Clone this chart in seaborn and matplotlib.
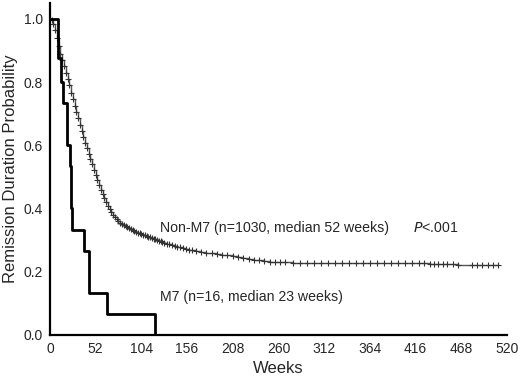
import numpy as np
import pandas as pd
import matplotlib
matplotlib.use("Agg")
import matplotlib.pyplot as plt
import seaborn as sns

# datos (Kaplan-Meier)
nonm7_weeks = [0, 2, 4, 6, 8, 10, 12, 14, 16, 18, 20, 22, 24, 26, 28, 30, 32, 34, 36,
               38, 40, 42, 44, 46, 48, 50, 52, 54, 56, 58, 60, 62, 64, 66, 68, 70, 72,
               74, 76, 78, 80, 82, 84, 86, 88, 90, 92, 94, 96, 98, 100, 102, 104, 106,
               108, 110, 112, 114, 116, 118, 120, 122, 124, 126, 128, 130, 133, 136,
               139, 142, 145, 148, 151, 155, 158, 162, 166, 172, 178, 184, 190, 196,
               202, 208, 214, 220, 226, 232, 238, 244, 250, 256, 262, 268, 276, 284,
               292, 300, 308, 316, 324, 332, 340, 348, 356, 364, 372, 380, 388, 396,
               404, 412, 420, 426, 432, 437, 442, 447, 452, 458, 464,
               480, 486, 492, 498, 504, 510]
nonm7_surv = [1.0, 0.995, 0.985, 0.965, 0.94, 0.915, 0.89, 0.87, 0.85, 0.83, 0.81,
              0.79, 0.765, 0.745, 0.725, 0.705, 0.685, 0.665, 0.645, 0.625, 0.607,
              0.59, 0.573, 0.557, 0.54, 0.523, 0.507, 0.49, 0.474, 0.458, 0.445, 0.432,
              0.42, 0.409, 0.398, 0.389, 0.38, 0.373, 0.366, 0.36, 0.355, 0.351, 0.347,
              0.343, 0.34, 0.337, 0.334, 0.331, 0.329, 0.326, 0.323, 0.321, 0.319,
              0.317, 0.315, 0.313, 0.311, 0.309, 0.307, 0.305, 0.303, 0.3, 0.298,
              0.296, 0.294, 0.292, 0.289, 0.287, 0.284, 0.282, 0.279, 0.277, 0.275,
              0.272, 0.27, 0.268, 0.266, 0.263, 0.26, 0.258, 0.256, 0.254, 0.252,
              0.25, 0.247, 0.244, 0.241, 0.238, 0.236, 0.234, 0.232, 0.231, 0.23,
              0.23, 0.229, 0.229, 0.228, 0.228, 0.228, 0.228, 0.228, 0.228, 0.228,
              0.228, 0.228, 0.228, 0.228, 0.228, 0.228, 0.228, 0.228, 0.228, 0.227,
              0.226, 0.225, 0.225, 0.224, 0.224, 0.224, 0.223, 0.222,
              0.222, 0.222, 0.222, 0.222, 0.222, 0.222]

m7_weeks = [0, 9, 12.5, 15, 19, 22.7, 23.5, 25.4, 38.7, 44.4, 64.5, 120]
m7_surv = [1.0, 0.875, 0.80, 0.733, 0.60, 0.533, 0.40, 0.333, 0.267, 0.133, 0.067, 0.0]

x_ticks = list(range(0, 521, 52))
y_ticks = [0.0, 0.2, 0.4, 0.6, 0.8, 1.0]

nonm7 = pd.DataFrame({"weeks": nonm7_weeks, "surv": nonm7_surv})
m7 = pd.DataFrame({"weeks": m7_weeks, "surv": m7_surv})

sns.set_style("white")
plt.rcParams["font.family"] = ["Liberation Sans", "DejaVu Sans"]

fig = plt.figure(figsize=(5.2, 3.81), dpi=100)
ax = fig.add_axes([0.096, 0.121, 0.879, 0.871])

sns.lineplot(data=nonm7, x="weeks", y="surv", ax=ax, estimator=None, sort=False,
             drawstyle="steps-post", color="#555555", linewidth=1.0,
             marker="+", markersize=5, markeredgewidth=0.8, markeredgecolor="#333333")
sns.lineplot(data=m7, x="weeks", y="surv", ax=ax, estimator=None, sort=False,
             drawstyle="steps-post", color="black", linewidth=2.0)

ax.set_xlim(0, 520)
ax.set_ylim(0, 1.05)
ax.set_xticks(x_ticks)
ax.set_yticks(y_ticks)
ax.set_yticklabels([f"{v:.1f}" for v in y_ticks])
ax.set_xlabel("Weeks", fontsize=12)
ax.set_ylabel("Remission Duration Probability", fontsize=12, labelpad=4)
ax.tick_params(direction="in", length=2.5, width=1.2, labelsize=10, pad=5)

for s in ["top", "right"]:
    ax.spines[s].set_visible(False)
for s in ["left", "bottom"]:
    ax.spines[s].set_linewidth(1.6)
    ax.spines[s].set_color("black")

ax.text(125, 0.339, "Non-M7 (n=1030, median 52 weeks)", fontsize=10.2, va="center")
ax.text(413, 0.339, "$\\it{P}$<.001", fontsize=10.2, va="center")
ax.text(125, 0.12, "M7 (n=16, median 23 weeks)", fontsize=10.2, va="center")

fig.savefig("out.png", dpi=100)
